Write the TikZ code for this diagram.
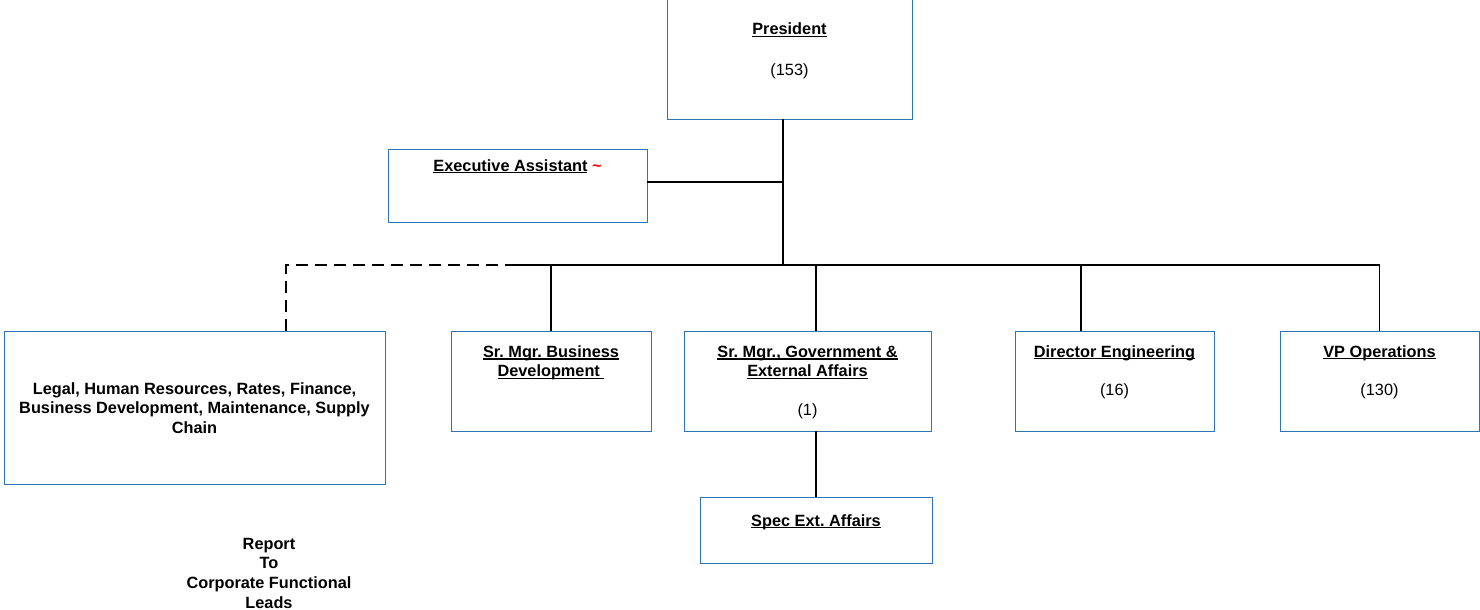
\documentclass[tikz,border=0pt]{standalone}
\usepackage{fontspec}
\setmainfont{Liberation Sans}
\frenchspacing
\definecolor{boxblue}{RGB}{46,117,182}
\newcommand\myul[1]{\setbox0\hbox{#1}\rlap{\rule[-2.3pt]{\wd0}{1.3pt}}\box0\relax}
\tikzset{
  box/.style={draw=boxblue, line width=1pt, rectangle, inner sep=0pt, outer sep=0pt, fill=white},
  txt/.style={inner sep=0pt, align=center, font=\fontsize{16.3}{19.6}\selectfont\bfseries\frenchspacing},
  cnt/.style={inner sep=0pt, font=\fontsize{16.3}{19.6}\selectfont},
  conn/.style={line width=1.6pt, black},
  dconn/.style={line width=1.6pt, black, dash pattern=on 12pt off 7pt}
}
\begin{document}
\begin{tikzpicture}[x=1pt,y=-1pt]
\useasboundingbox (0,0) rectangle (1480,610);
% boxes
\node[box, minimum width=245pt, minimum height=119pt] (pres) at (789.5,59.5) {};
\node[box, minimum width=259pt, minimum height=73pt] (ea) at (517.5,185.5) {};
\node[box, minimum width=381pt, minimum height=153pt] (legal) at (194.5,407.5) {};
\node[box, minimum width=200pt, minimum height=100pt] (bd) at (551,381) {};
\node[box, minimum width=247pt, minimum height=100pt] (gov) at (807.5,381) {};
\node[box, minimum width=199pt, minimum height=100pt] (dir) at (1114.5,381) {};
\node[box, minimum width=199pt, minimum height=100pt] (vp) at (1379.5,381) {};
\node[box, minimum width=232pt, minimum height=66pt] (spec) at (816,530) {};
% texts
\node[txt, anchor=base] (ptitle) at (789.5,35) {\myul{President}};
\node[cnt, anchor=base] (pcnt) at (789.5,75) {(153)};
\node[txt, anchor=base] (eatitle) at (517.5,171) {\myul{Executive Assistant}\ \textcolor{red}{\textasciitilde}};
\node[txt, anchor=north] (legaltxt) at (194.5,380.3) {\strut Legal, Human Resources, Rates, Finance,\\Business Development, Maintenance, Supply\\Chain};
\node[txt, anchor=north] (bdtitle) at (551,343.3) {\strut\myul{Sr. Mgr. Business}\\\myul{Development\ }};
\node[txt, anchor=north] (govtitle) at (807.5,343.3) {\strut\myul{Sr. Mgr., Government \&}\\\myul{External Affairs}};
\node[cnt, anchor=base] (govcnt) at (807.5,415) {(1)};
\node[txt, anchor=base] (dirtitle) at (1114.5,357) {\myul{Director Engineering}};
\node[cnt, anchor=base] (dircnt) at (1114.5,395) {(16)};
\node[txt, anchor=base] (vptitle) at (1379.5,357) {\myul{VP Operations}};
\node[cnt, anchor=base] (vpcnt) at (1379.5,395) {(130)};
\node[txt, anchor=base] (spectitle) at (816,526) {\myul{Spec Ext. Affairs}};
\node[txt, anchor=north] (report) at (269,535.3) {\strut Report\\To\\Corporate Functional\\Leads};
% connectors
\coordinate (junc) at (783,265);
\coordinate (eaj) at (783,182);
\coordinate (dashend) at (514,265);
\coordinate (legaltop) at (286,331);
\coordinate (dirtop) at (1081,331);
\draw[conn] (pres.south -| junc) -- (junc);
\draw[conn] (ea.east |- eaj) -- (eaj);
\draw[conn] (dashend) -- (vp.north |- junc);
\draw[dconn] (legaltop) -- (legaltop |- dashend) -- (dashend);
\draw[conn] (bd.north) -- (bd.north |- junc);
\draw[conn] (spec.north |- gov.north) -- (spec.north |- junc);
\draw[conn] (dirtop) -- (dirtop |- junc);
\draw[conn] (vp.north) -- (vp.north |- junc);
\draw[conn] (spec.north |- gov.south) -- (spec.north);
\end{tikzpicture}
\end{document}
